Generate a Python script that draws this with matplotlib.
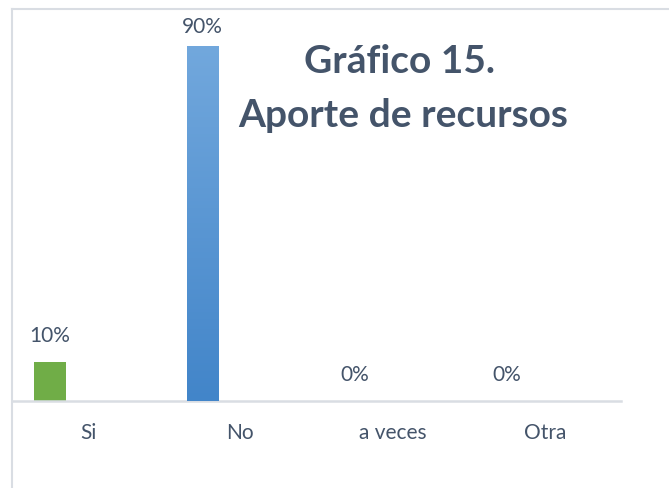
import matplotlib
matplotlib.use("Agg")
import matplotlib.pyplot as plt
import numpy as np
from matplotlib.lines import Line2D
from matplotlib.colors import LinearSegmentedColormap

categories = ["Si", "No", "a veces", "Otra"]
values = [10, 90, 0, 0]
labels = ["10%", "90%", "0%", "0%"]
title_lines = ["Gráfico 15.", "Aporte de recursos"]

TXT = "#44546A"
plt.rcParams['font.family'] = ['Lato', 'DejaVu Sans']

fig = plt.figure(figsize=(6.69, 4.89), dpi=100)
ax = fig.add_axes([12/669, 1-402/489, 609/669, 392/489])
ax.set_xlim(-0.5, 3.5)
ax.set_ylim(0, 392/3.95)

x = np.arange(len(categories))
offset = -0.25
bars = ax.bar(x + offset, values, width=0.205, color=["#70AD47", "#5B9BD5", "#5B9BD5", "#5B9BD5"], zorder=2)

# gradient for the blue bars
cmap = LinearSegmentedColormap.from_list("g", ["#4285C9", "#72A8DD"])
grad = np.linspace(0, 1, 256).reshape(-1, 1)
for b, v in zip(bars[1:], values[1:]):
    if v > 0:
        im = ax.imshow(grad, cmap=cmap, origin="lower", aspect="auto",
                       extent=[b.get_x(), b.get_x() + b.get_width(), 0, b.get_height()], zorder=3)
        im.set_clip_path(b)

pads = [12, 7, 12, 12]
for b, lab, p in zip(bars, labels, pads):
    ax.annotate(lab, (b.get_x() + b.get_width()/2, b.get_height()), xytext=(0, p),
                textcoords="offset points", ha="center", va="bottom", color=TXT, fontsize=15)

ax.set_xticks(x, categories)
ax.tick_params(axis="x", length=0, pad=15, labelsize=15, labelcolor=TXT)
ax.set_yticks([])
for s in ["top", "right", "left"]:
    ax.spines[s].set_visible(False)
ax.spines["bottom"].set_color("#D9DDE3")
ax.spines["bottom"].set_linewidth(1.8)
ax.set_xlim(-0.5, 3.5)

fig.text(400/669, 1-73/489, title_lines[0], ha="center", va="baseline",
         fontsize=28, fontweight="bold", color=TXT)
fig.text(403/669, 1-127/489, title_lines[1], ha="center", va="baseline",
         fontsize=28, fontweight="bold", color=TXT)

# chart area border (cropped)
fig.add_artist(Line2D([12/669, 12/669], [0, 1-10/489], color="#D9DDE3", lw=1.5, transform=fig.transFigure))
fig.add_artist(Line2D([12/669, 1], [1-10/489, 1-10/489], color="#D9DDE3", lw=1.5, transform=fig.transFigure))

fig.savefig("out.png", dpi=100)
